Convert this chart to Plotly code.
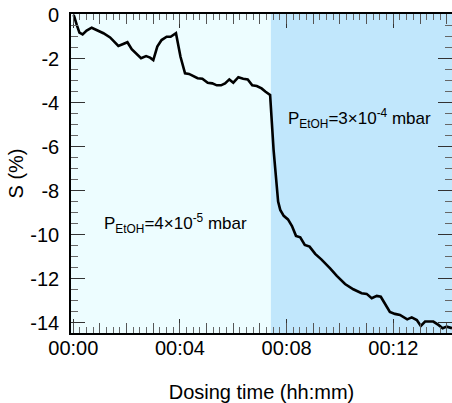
import plotly.graph_objects as go

# Dosing time (minutes) and signal change S (%)
time_min = [0.0, 0.03, 0.13, 0.23, 0.35, 0.50, 0.69, 0.88, 1.13, 1.38, 1.54, 1.69, 1.87, 2.03,
            2.19, 2.38, 2.54, 2.73, 2.88, 3.00, 3.15, 3.31, 3.50, 3.65, 3.85, 4.02, 4.19,
            4.34, 4.50, 4.66, 4.84, 5.04, 5.21, 5.38, 5.54, 5.69, 5.85, 6.00, 6.19, 6.37,
            6.54, 6.71, 6.88, 7.06, 7.21, 7.38, 7.51, 7.60, 7.68, 7.76, 7.89, 8.05, 8.20,
            8.35, 8.51, 8.68, 8.86, 9.07, 9.30, 9.63, 9.88, 10.19, 10.50, 10.81, 11.00,
            11.19, 11.38, 11.53, 11.69, 11.87, 12.06, 12.25, 12.52, 12.69, 12.88, 13.03,
            13.19, 13.50, 13.69, 13.85, 14.00, 14.20]
signal_pct = [0.0, -0.05, -0.45, -0.80, -0.88, -0.71, -0.58, -0.68, -0.83, -1.02, -1.24, -1.41,
              -1.32, -1.24, -1.56, -1.79, -1.97, -1.87, -1.94, -2.05, -1.44, -1.14, -0.99,
              -0.99, -0.83, -1.90, -2.65, -2.68, -2.78, -2.88, -2.90, -3.08, -3.11, -3.20,
              -3.20, -3.11, -2.93, -3.08, -2.83, -2.90, -2.93, -3.20, -3.23, -3.34, -3.49,
              -3.64, -6.14, -7.36, -8.49, -8.87, -9.14, -9.30, -9.60, -10.05, -10.12,
              -10.46, -10.54, -10.87, -11.12, -11.53, -11.87, -12.24, -12.48, -12.66,
              -12.69, -12.89, -12.78, -12.82, -13.15, -13.51, -13.60, -13.65, -13.85,
              -13.76, -13.88, -14.15, -13.95, -13.95, -14.10, -14.25, -14.18, -14.25]

switch_time = 7.41  # pressure switched from 4e-5 to 3e-4 mbar

x_tickvals = [0, 4, 8, 12]
x_ticktext = ["00:00", "00:04", "00:08", "00:12"]
x_minute_ticks = list(range(0, 15))
y_tickvals = [0, -2, -4, -6, -8, -10, -12, -14]
y_ticktext = ["0", "-2", "-4", "-6", "-8", "-10", "-12", "-14"]

label_low = "P<sub>EtOH</sub>=4×10<sup>-5</sup> mbar"
label_high = "P<sub>EtOH</sub>=3×10<sup>-4</sup> mbar"

X_RANGE = [-0.086, 14.2]
Y_RANGE = [-14.47, 0.045]

FONT = "Liberation Sans, Arial, Helvetica, sans-serif"

fig = go.Figure()
fig.add_trace(go.Scatter(x=time_min, y=signal_pct, mode="lines",
                         line=dict(color="black", width=2.6), showlegend=False,
                         hoverinfo="skip"))
# helper trace to activate the overlay axis carrying the 1-min ticks
fig.add_trace(go.Scatter(x=time_min, y=signal_pct, mode="lines", xaxis="x2", yaxis="y",
                         line=dict(width=0), opacity=0, showlegend=False, hoverinfo="skip"))

fig.add_shape(type="rect", xref="x", yref="paper", x0=switch_time, x1=X_RANGE[1],
              y0=0, y1=1, fillcolor="#c1e7fc", line=dict(width=0), layer="below")

fig.add_annotation(x=3.84, y=-9.5, xref="x", yref="y", text=label_low, showarrow=False,
                   font=dict(size=17, family=FONT, color="black"),
                   xanchor="center", yanchor="middle")
fig.add_annotation(x=10.72, y=-4.72, xref="x", yref="y", text=label_high, showarrow=False,
                   font=dict(size=17, family=FONT, color="black"),
                   xanchor="center", yanchor="middle")

fig.update_layout(
    width=452, height=403,
    margin=dict(l=71, r=0, t=14, b=70, autoexpand=False),
    paper_bgcolor="white",
    plot_bgcolor="#edfdff",
    font=dict(family=FONT, size=20, color="black"),
    xaxis=dict(
        range=X_RANGE, tickmode="array", tickvals=x_tickvals, ticktext=x_ticktext,
        ticks="inside", ticklen=14, tickwidth=1.3, tickcolor="#333",
        showline=True, linecolor="black", linewidth=1.6, mirror="ticks",
        showgrid=False, zeroline=False, automargin=False,
        minor=dict(tickmode="linear", tick0=0, dtick=0.25, ticks="inside", ticklen=6,
                   tickwidth=1.2, tickcolor="#666", showgrid=False),
        tickfont=dict(size=20), ticklabelstandoff=-4,
        title=dict(text="Dosing time (hh:mm)", font=dict(size=20), standoff=28),
    ),
    xaxis2=dict(
        range=X_RANGE, overlaying="x", anchor="y", side="bottom",
        tickmode="array", tickvals=x_minute_ticks,
        ticks="inside", ticklen=10, tickwidth=1.3, tickcolor="#555",
        showline=False, mirror="ticks", showgrid=False, zeroline=False,
        showticklabels=False, automargin=False,
    ),
    yaxis=dict(
        range=Y_RANGE, tickmode="array", tickvals=y_tickvals, ticktext=y_ticktext,
        ticks="inside", ticklen=14, tickwidth=1.3, tickcolor="#333",
        showline=True, linecolor="black", linewidth=1.6, mirror="ticks",
        showgrid=False, zeroline=False, automargin=False,
        minor=dict(tickmode="linear", tick0=0, dtick=0.5, ticks="inside", ticklen=7,
                   tickwidth=1.2, tickcolor="#666", showgrid=False),
        tickfont=dict(size=20), ticklabelstandoff=6,
        title=dict(text="S (%)", font=dict(size=20), standoff=1),
    ),
)

fig.write_html("out.html", config={"displayModeBar": False},
               post_script="document.body.style.margin='0';")
